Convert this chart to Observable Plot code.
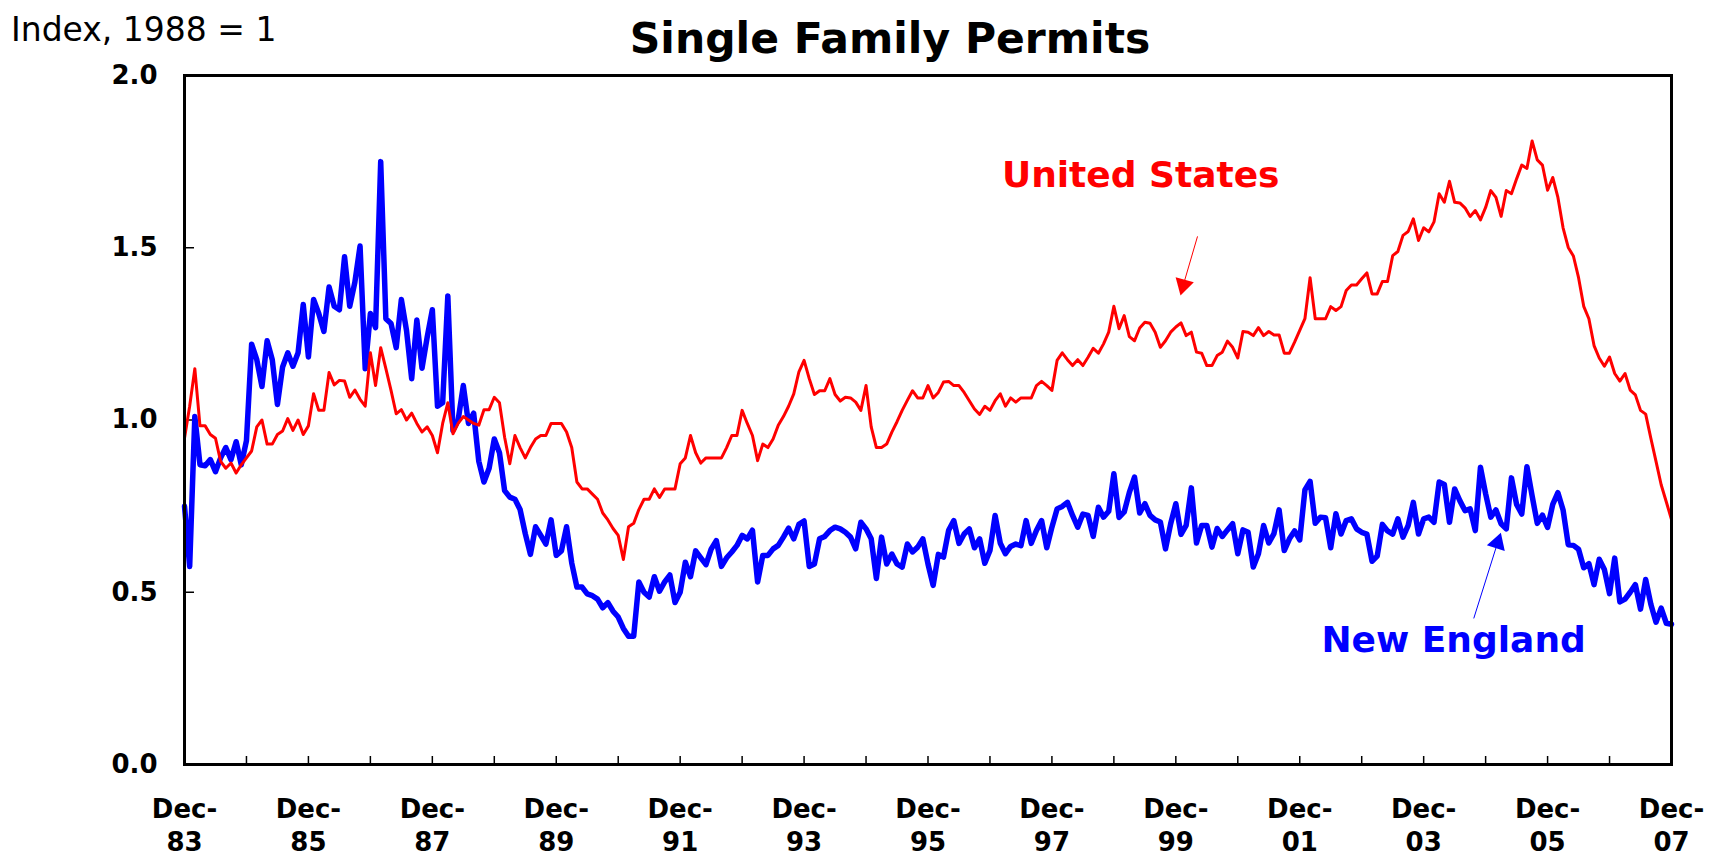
<!DOCTYPE html>
<html><head><meta charset="utf-8">
<script src="https://cdn.jsdelivr.net/npm/d3@7"></script>
<script src="https://cdn.jsdelivr.net/npm/@observablehq/plot@0.6"></script>
<style>
body{margin:0;background:#fff;}
#wrap{position:relative;width:1712px;height:858px;overflow:hidden;}
#chart{position:absolute;left:0;top:0;}
#ylab{position:absolute;left:11px;top:11px;font:33px "DejaVu Sans";line-height:38px;white-space:nowrap;color:#000;}
#title{position:absolute;left:490px;width:800px;top:14px;text-align:center;font:bold 42.5px "DejaVu Sans";line-height:50px;color:#000;}
</style></head>
<body>
<div id="wrap">
<div id="chart"></div>
<div id="ylab">Index, 1988 = 1</div>
<div id="title">Single Family Permits</div>
</div>
<script>
// Monthly index values, Dec-83 ... Dec-07 (289 months)
const usValues = [
0.947,1.04,1.149,0.983,0.983,0.958,0.947,0.88,0.86,0.875,0.846,0.87,
0.89,0.91,0.98,1.0,0.93,0.93,0.958,0.968,1.004,0.97,1.0,0.958,
0.983,1.076,1.028,1.028,1.138,1.102,1.115,1.113,1.066,1.087,1.06,1.04,
1.195,1.10,1.21,1.149,1.086,1.018,1.03,1.0,1.02,0.99,0.965,0.98,
0.955,0.905,0.99,1.05,0.96,0.99,1.01,1.0,0.99,0.985,1.03,1.03,
1.066,1.05,0.95,0.873,0.955,0.92,0.89,0.92,0.945,0.955,0.955,0.99,
0.99,0.99,0.965,0.92,0.82,0.80,0.80,0.785,0.77,0.73,0.71,0.685,
0.665,0.595,0.69,0.70,0.74,0.77,0.77,0.80,0.775,0.80,0.80,0.80,
0.873,0.89,0.955,0.905,0.875,0.89,0.89,0.89,0.89,0.92,0.955,0.955,
1.028,0.99,0.955,0.882,0.93,0.92,0.945,0.985,1.01,1.04,1.076,1.14,
1.173,1.12,1.074,1.085,1.085,1.12,1.074,1.055,1.066,1.064,1.052,1.028,
1.10,0.98,0.92,0.92,0.93,0.965,0.995,1.028,1.057,1.085,1.064,1.064,
1.10,1.064,1.08,1.11,1.112,1.10,1.10,1.08,1.056,1.032,1.016,1.04,
1.028,1.056,1.076,1.04,1.064,1.052,1.064,1.064,1.064,1.10,1.112,1.10,
1.086,1.173,1.195,1.175,1.158,1.175,1.158,1.182,1.208,1.194,1.221,1.255,
1.33,1.265,1.303,1.242,1.23,1.267,1.284,1.281,1.255,1.211,1.23,1.255,
1.27,1.282,1.245,1.255,1.197,1.194,1.158,1.158,1.187,1.197,1.229,1.211,
1.18,1.257,1.255,1.245,1.268,1.245,1.257,1.247,1.247,1.194,1.194,1.226,
1.26,1.294,1.413,1.294,1.294,1.294,1.329,1.318,1.329,1.376,1.392,1.392,
1.41,1.427,1.366,1.366,1.402,1.402,1.477,1.489,1.536,1.547,1.584,1.521,
1.558,1.546,1.575,1.657,1.632,1.693,1.632,1.63,1.616,1.591,1.608,1.581,
1.617,1.666,1.646,1.591,1.666,1.657,1.70,1.74,1.73,1.81,1.755,1.74,
1.667,1.704,1.646,1.558,1.501,1.476,1.413,1.33,1.294,1.216,1.18,1.156,
1.183,1.135,1.113,1.135,1.087,1.073,1.028,1.017,0.947,0.88,0.812,0.762,
0.711];

const neValues = [
0.75,0.575,1.01,0.87,0.867,0.885,0.85,0.89,0.92,0.885,0.937,0.87,
0.94,1.22,1.175,1.097,1.23,1.175,1.045,1.154,1.195,1.156,1.195,1.335,
1.183,1.35,1.309,1.257,1.386,1.33,1.32,1.474,1.33,1.40,1.505,1.149,
1.309,1.268,1.75,1.294,1.28,1.21,1.35,1.26,1.12,1.29,1.15,1.24,
1.32,1.04,1.05,1.36,0.97,1.0,1.10,0.99,1.02,0.88,0.82,0.86,
0.945,0.905,0.795,0.776,0.77,0.74,0.67,0.61,0.69,0.665,0.64,0.71,
0.607,0.62,0.69,0.585,0.515,0.515,0.495,0.49,0.48,0.455,0.47,0.445,
0.428,0.395,0.372,0.372,0.53,0.50,0.486,0.545,0.503,0.53,0.55,0.47,
0.50,0.587,0.545,0.62,0.60,0.58,0.625,0.65,0.575,0.60,0.617,0.636,
0.665,0.655,0.68,0.53,0.607,0.607,0.626,0.636,0.66,0.686,0.655,0.697,
0.707,0.575,0.582,0.655,0.662,0.679,0.689,0.684,0.674,0.66,0.626,0.703,
0.684,0.655,0.54,0.66,0.582,0.611,0.582,0.573,0.64,0.617,0.631,0.655,
0.582,0.52,0.61,0.602,0.68,0.708,0.642,0.669,0.684,0.629,0.655,0.584,
0.621,0.723,0.642,0.612,0.633,0.64,0.635,0.708,0.642,0.679,0.708,0.629,
0.689,0.742,0.749,0.761,0.723,0.689,0.727,0.723,0.662,0.747,0.718,0.735,
0.844,0.717,0.733,0.79,0.834,0.73,0.757,0.723,0.71,0.704,0.626,0.699,
0.757,0.668,0.694,0.803,0.643,0.694,0.694,0.631,0.685,0.662,0.681,0.699,
0.612,0.681,0.674,0.573,0.612,0.694,0.643,0.67,0.739,0.621,0.655,0.678,
0.652,0.797,0.822,0.70,0.718,0.716,0.629,0.728,0.669,0.708,0.713,0.684,
0.674,0.669,0.59,0.605,0.697,0.678,0.669,0.713,0.66,0.694,0.761,0.669,
0.713,0.718,0.703,0.82,0.813,0.703,0.80,0.766,0.737,0.742,0.679,0.863,
0.786,0.718,0.739,0.699,0.684,0.832,0.755,0.727,0.864,0.78,0.70,0.724,
0.688,0.755,0.789,0.739,0.638,0.636,0.625,0.571,0.583,0.522,0.596,0.566,
0.496,0.599,0.472,0.48,0.50,0.522,0.451,0.537,0.465,0.413,0.454,0.41,
0.407];

const xTickLabels = ["Dec-\n83","Dec-\n85","Dec-\n87","Dec-\n89","Dec-\n91","Dec-\n93","Dec-\n95",
                     "Dec-\n97","Dec-\n99","Dec-\n01","Dec-\n03","Dec-\n05","Dec-\n07"];
const yTicks = [0, 0.5, 1.0, 1.5, 2.0];

// annotation labels (month index, value)
const seriesNames = ["United States", "New England"];
const seriesColors = ["#ff0000", "#0000ff"];
const labelMonth = [185.2, 245.8];
const labelValue = [1.71, 0.36];
// arrows: start point and head point (month index, value), head rotation
const arrowStartMonth = [196.2, 249.7];
const arrowStartValue = [1.533, 0.424];
const arrowHeadMonth = [193.45, 254.3];
const arrowHeadValue = [1.392, 0.643];
const arrowHeadRotate = [195, 18];

const data = usValues.map((v, i) => ({i, us: v, ne: neValues[i]}));
const labels = seriesNames.map((name, k) => ({name, color: seriesColors[k], x: labelMonth[k], y: labelValue[k]}));
const arrows = seriesNames.map((name, k) => ({color: seriesColors[k],
  x1: arrowStartMonth[k], y1: arrowStartValue[k], x2: arrowHeadMonth[k], y2: arrowHeadValue[k], rot: arrowHeadRotate[k]}));

const chart = Plot.plot({
  width: 1712,
  height: 858,
  marginLeft: 184,
  marginRight: 41,
  marginTop: 75,
  marginBottom: 94,
  style: {fontFamily: "DejaVu Sans", color: "#000", background: "#fff"},
  x: {domain: [0, usValues.length - 1]},
  y: {domain: [0, 2]},
  marks: [
    Plot.axisY({ticks: yTicks, tickSize: -10, tickPadding: 37, strokeWidth: 1.5,
      tickFormat: d3.format(".1f"), fontSize: 26, fontWeight: "bold", label: null}),
    Plot.axisX({ticks: d3.range(0, usValues.length, 12), tickSize: -8, tickPadding: 39, strokeWidth: 1.5,
      tickFormat: i => (i % 24 === 0 ? xTickLabels[i / 24] : ""),
      fontSize: 26, fontWeight: "bold", lineHeight: 1.24, label: null}),
    Plot.line(data, {x: "i", y: "ne", stroke: "#0000ff", strokeWidth: 5.5, strokeLinejoin: "round"}),
    Plot.line(data, {x: "i", y: "us", stroke: "#ff0000", strokeWidth: 3, strokeLinejoin: "round"}),
    Plot.link(arrows, {x1: "x1", y1: "y1", x2: "x2", y2: "y2", stroke: "color", strokeWidth: 1}),
    Plot.dot(arrows, {x: "x2", y: "y2", symbol: "triangle", r: 7, fill: "color", stroke: null, rotate: "rot"}),
    Plot.text(labels, {x: "x", y: "y", text: "name", fill: "color", fontSize: 36, fontWeight: "bold"}),
    Plot.frame({stroke: "#000", strokeWidth: 3})
  ]
});
document.getElementById("chart").appendChild(chart);
</script>
</body></html>
